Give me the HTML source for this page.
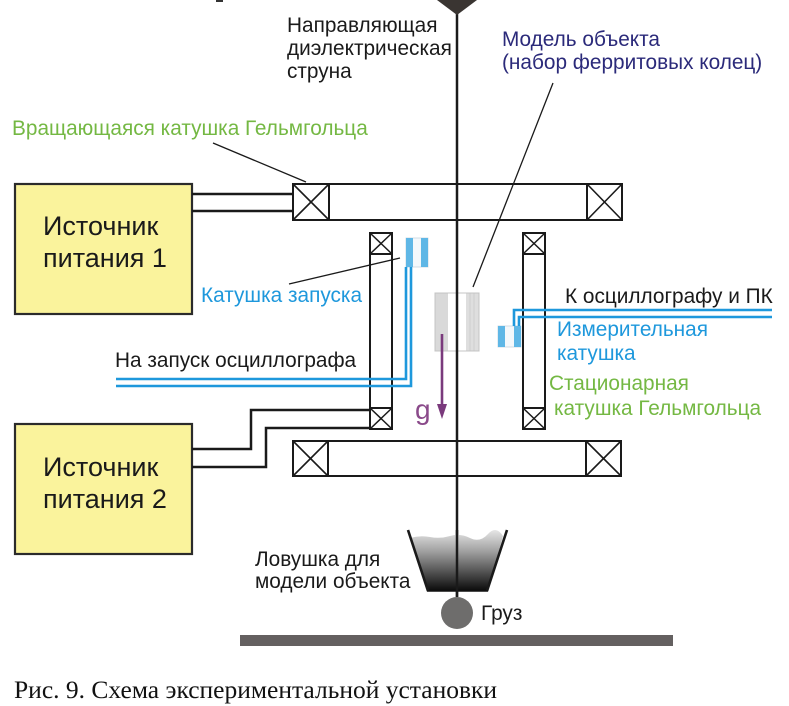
<!DOCTYPE html>
<html>
<head>
<meta charset="utf-8">
<style>
html,body{margin:0;padding:0;background:#fff;}
body{width:789px;height:706px;overflow:hidden;}
svg{display:block;}
text{font-family:"Liberation Sans",Arial,sans-serif;font-size:20.8px;}
</style>
</head>
<body>
<svg width="789" height="706" viewBox="0 0 789 706" xmlns="http://www.w3.org/2000/svg">
<defs>
<linearGradient id="trap" x1="0" y1="0" x2="0" y2="1">
<stop offset="0" stop-color="#e6e6e6"/>
<stop offset="0.35" stop-color="#a0a0a0"/>
<stop offset="1" stop-color="#0a0a0a"/>
</linearGradient>
</defs>

<!-- tiny cut glyph at top -->
<rect x="216" y="0" width="7" height="2" fill="#333"/>

<!-- Yellow boxes -->
<rect x="15" y="184" width="177" height="130" fill="#faf39c" stroke="#2b2b2b" stroke-width="2.2"/>
<rect x="15" y="424" width="177" height="130" fill="#faf39c" stroke="#2b2b2b" stroke-width="2.2"/>
<text x="43" y="235" style="font-size:27px" fill="#1a1a1a">Источник</text>
<text x="43" y="267" style="font-size:27px" fill="#1a1a1a">питания 1</text>
<text x="43" y="476" style="font-size:27px" fill="#1a1a1a">Источник</text>
<text x="43" y="508" style="font-size:27px" fill="#1a1a1a">питания 2</text>

<!-- wires from box 1 to top coil -->
<line x1="192" y1="194" x2="294" y2="194" stroke="#1a1a1a" stroke-width="2.5"/>
<line x1="192" y1="211" x2="294" y2="211" stroke="#1a1a1a" stroke-width="2.5"/>

<!-- wires from box 2 to stationary coil -->
<polyline points="192,449 251,449 251,410 370,410" fill="none" stroke="#1a1a1a" stroke-width="2.5"/>
<polyline points="192,467 266,467 266,428 370,428" fill="none" stroke="#1a1a1a" stroke-width="2.5"/>

<!-- top rotating coil -->
<rect x="293" y="184" width="329" height="36" fill="#fff" stroke="#1a1a1a" stroke-width="2"/>
<g stroke="#1a1a1a" stroke-width="1.6" fill="none">
<rect x="293" y="184" width="36" height="36" stroke-width="2"/>
<line x1="293" y1="184" x2="329" y2="220"/><line x1="329" y1="184" x2="293" y2="220"/>
<rect x="587" y="184" width="35" height="36" stroke-width="2"/>
<line x1="587" y1="184" x2="622" y2="220"/><line x1="622" y1="184" x2="587" y2="220"/>
</g>

<!-- bottom rotating coil -->
<rect x="293" y="441" width="328" height="35" fill="#fff" stroke="#1a1a1a" stroke-width="2"/>
<g stroke="#1a1a1a" stroke-width="1.6" fill="none">
<rect x="293" y="441" width="35" height="35" stroke-width="2"/>
<line x1="293" y1="441" x2="328" y2="476"/><line x1="328" y1="441" x2="293" y2="476"/>
<rect x="586" y="441" width="35" height="35" stroke-width="2"/>
<line x1="586" y1="441" x2="621" y2="476"/><line x1="621" y1="441" x2="586" y2="476"/>
</g>

<!-- stationary coil vertical bars -->
<g stroke="#1a1a1a" fill="none">
<rect x="370" y="233" width="22" height="196" stroke-width="2" fill="#fff"/>
<rect x="370" y="233" width="22" height="21" stroke-width="2"/>
<line x1="370" y1="233" x2="392" y2="254" stroke-width="1.5"/><line x1="392" y1="233" x2="370" y2="254" stroke-width="1.5"/>
<rect x="370" y="408" width="22" height="21" stroke-width="2"/>
<line x1="370" y1="408" x2="392" y2="429" stroke-width="1.5"/><line x1="392" y1="408" x2="370" y2="429" stroke-width="1.5"/>

<rect x="523" y="233" width="22" height="196" stroke-width="2" fill="#fff"/>
<rect x="523" y="233" width="22" height="21" stroke-width="2"/>
<line x1="523" y1="233" x2="545" y2="254" stroke-width="1.5"/><line x1="545" y1="233" x2="523" y2="254" stroke-width="1.5"/>
<rect x="523" y="408" width="22" height="21" stroke-width="2"/>
<line x1="523" y1="408" x2="545" y2="429" stroke-width="1.5"/><line x1="545" y1="408" x2="523" y2="429" stroke-width="1.5"/>
</g>

<!-- Ferrite model -->
<rect x="435" y="293" width="44" height="58" fill="#fff" stroke="#c8c8c8" stroke-width="1"/>
<rect x="435" y="293" width="13" height="58" fill="#d9d9d9"/>
<rect x="466" y="293" width="13" height="58" fill="#dedede"/>
<line x1="470" y1="293" x2="470" y2="351" stroke="#c9c9c9" stroke-width="0.8"/>
<line x1="474" y1="293" x2="474" y2="351" stroke="#c9c9c9" stroke-width="0.8"/>
<rect x="435" y="293" width="44" height="58" fill="none" stroke="#c4c4c4" stroke-width="1"/>

<!-- launch coil -->
<rect x="406" y="238" width="22" height="29" fill="#f4f8fb" stroke="#c8d6e0" stroke-width="0.8"/>
<rect x="406" y="238" width="7" height="29" fill="#5fb7e6"/>
<rect x="421" y="238" width="7" height="29" fill="#5fb7e6"/>

<!-- measurement coil -->
<rect x="498" y="326" width="23" height="21" fill="#f4f8fb" stroke="#c8d6e0" stroke-width="0.8"/>
<rect x="498" y="326" width="7" height="21" fill="#5fb7e6"/>
<rect x="514" y="326" width="7" height="21" fill="#5fb7e6"/>

<!-- blue wires -->
<polyline points="406,267 406,379 116,379" fill="none" stroke="#1e98dc" stroke-width="2.6"/>
<polyline points="411,267 411,386 116,386" fill="none" stroke="#1e98dc" stroke-width="2.6"/>
<polyline points="514,326 514,310 772,310" fill="none" stroke="#1e98dc" stroke-width="2.6"/>
<polyline points="519,326 519,317 772,317" fill="none" stroke="#1e98dc" stroke-width="2.6"/>

<!-- string -->
<line x1="457" y1="8" x2="457" y2="597" stroke="#1a1a1a" stroke-width="2.5"/>
<polygon points="437,0 477,0 457,15" fill="#3a3532"/>

<!-- gravity arrow -->
<line x1="442" y1="334" x2="442" y2="408" stroke="#7a3a7c" stroke-width="2.6"/>
<polygon points="437,404 447,404 442,419" fill="#7a3a7c"/>
<text x="415" y="419" style="font-size:28px" fill="#8a4a8a">g</text>

<!-- trap -->
<path d="M410,538 Q420,535 430,537 T450,536 T470,538 T488,534 T503,536 L488,591 L428,591 Z" fill="url(#trap)"/>
<line x1="408" y1="530" x2="428" y2="591" stroke="#1a1a1a" stroke-width="2.6"/>
<line x1="507" y1="530" x2="487" y2="591" stroke="#1a1a1a" stroke-width="2.6"/>
<line x1="427" y1="591" x2="488" y2="591" stroke="#111" stroke-width="1.5"/>
<line x1="457" y1="530" x2="457" y2="597" stroke="#1a1a1a" stroke-width="2.5"/>

<!-- weight -->
<circle cx="457" cy="613" r="16" fill="#6e6d6c"/>

<!-- ground -->
<rect x="240" y="635" width="433" height="11" fill="#646060"/>

<!-- leader lines -->
<line x1="213" y1="143" x2="306" y2="182" stroke="#1a1a1a" stroke-width="1.3"/>
<line x1="553" y1="83" x2="473" y2="287" stroke="#1a1a1a" stroke-width="1.3"/>
<line x1="289" y1="284" x2="400" y2="258" stroke="#1a1a1a" stroke-width="1.3"/>

<!-- labels -->
<text x="287" y="32" fill="#1a1a1a">Направляющая</text>
<text x="287" y="55" fill="#1a1a1a">диэлектрическая</text>
<text x="287" y="78" fill="#1a1a1a">струна</text>

<text x="502" y="46" fill="#2b2a7a">Модель объекта</text>
<text x="502" y="69" fill="#2b2a7a">(набор ферритовых колец)</text>

<text x="12" y="135" fill="#74b843">Вращающаяся катушка Гельмгольца</text>

<text x="201" y="302" fill="#1e98dc">Катушка запуска</text>
<text x="115" y="367" fill="#1a1a1a">На запуск осциллографа</text>

<text x="565" y="303" fill="#1a1a1a">К осциллографу и ПК</text>
<text x="557" y="336" fill="#1e98dc">Измерительная</text>
<text x="557" y="360" fill="#1e98dc">катушка</text>
<text x="549" y="390" fill="#74b843">Стационарная</text>
<text x="554" y="415" fill="#74b843">катушка Гельмгольца</text>

<text x="255" y="566" fill="#1a1a1a">Ловушка для</text>
<text x="255" y="588" fill="#1a1a1a">модели объекта</text>
<text x="481" y="620" fill="#1a1a1a">Груз</text>

<text x="14" y="698" style="font-family:'Liberation Serif','Times New Roman',serif;font-size:25.5px" fill="#111">Рис. 9. Схема экспериментальной установки</text>
</svg>
</body>
</html>
